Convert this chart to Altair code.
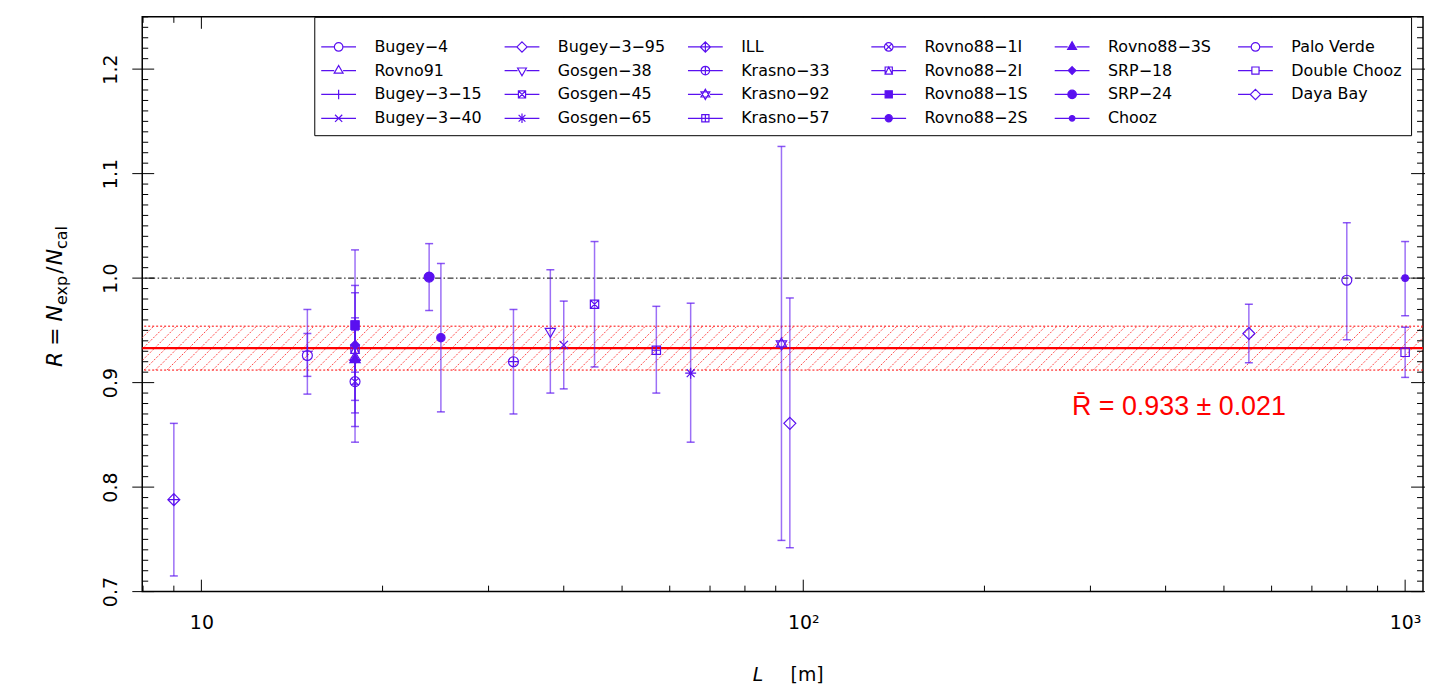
import math
import altair as alt
import pandas as pd

# ---------------- data ----------------
names = ["Bugey−4", "Rovno91", "Bugey−3−15", "Bugey−3−40",
         "Bugey−3−95", "Gosgen−38", "Gosgen−45", "Gosgen−65",
         "ILL", "Krasno−33", "Krasno−92", "Krasno−57",
         "Rovno88−1I", "Rovno88−2I", "Rovno88−1S", "Rovno88−2S",
         "Rovno88−3S", "SRP−18", "SRP−24", "Chooz",
         "Palo Verde", "Double Chooz", "Daya Bay"]
dist = [15, 18, 15, 40,
        95, 38, 45, 65,
        9, 33, 92, 57,
        18, 18, 18, 25,
        18, 18, 23.9, 1000,
        800, 1000, 550]
ratio = [0.926, 0.924, 0.930, 0.936,
         0.861, 0.949, 0.975, 0.909,
         0.788, 0.920, 0.937, 0.931,
         0.901, 0.932, 0.955, 0.943,
         0.922, 0.936, 1.001, 1.000,
         0.998, 0.929, 0.947]
err_lo = [0.906, 0.898, 0.889, 0.894,
          0.742, 0.890, 0.915, 0.843,
          0.715, 0.870, 0.749, 0.890,
          0.843, 0.871, 0.883, 0.872,
          0.858, 0.910, 0.969, 0.964,
          0.941, 0.905, 0.919]
err_hi = [0.947, 0.950, 0.970, 0.978,
          0.981, 1.008, 1.035, 0.976,
          0.861, 0.970, 1.126, 0.973,
          0.959, 0.993, 1.027, 1.014,
          0.986, 0.962, 1.033, 1.035,
          1.053, 0.953, 0.975]
pch = list(range(1, 24))

mean_R = 0.933
mean_err = 0.021
ref_R = 1.0

x_major = [10, 100, 1000]
x_minor = [8, 9, 20, 30, 40, 50, 60, 70, 80, 90, 200, 300, 400, 500, 600, 700, 800, 900]
y_major = [0.7, 0.8, 0.9, 1.0, 1.1, 1.2]
y_minor = [round(0.70 + 0.01 * i, 2) for i in range(56) if i % 10 != 0]

# ---------------- style ----------------
PURPLE = "#5A10F0"
W, H = 1288, 578
XDOM = [7.975, 1070.8]
YDOM = [0.7, 1.25]
FONT = "DejaVu Sans"


def f(v):
    return f"{v:.3f}"


def circ(r):
    return f"M{f(r)},0A{f(r)},{f(r)} 0 1,1 {f(-r)},0A{f(r)},{f(r)} 0 1,1 {f(r)},0Z"


def sq(h):
    return f"M{f(-h)},{f(-h)}H{f(h)}V{f(h)}H{f(-h)}Z"


def tri_up(r):
    return f"M0,{f(-r)}L{f(0.866*r)},{f(0.5*r)}L{f(-0.866*r)},{f(0.5*r)}Z"


def tri_dn(r):
    return f"M0,{f(r)}L{f(0.866*r)},{f(-0.5*r)}L{f(-0.866*r)},{f(-0.5*r)}Z"


def dia(r):
    return f"M0,{f(-r)}L{f(r)},0L0,{f(r)}L{f(-r)},0Z"


def plus(r):
    return f"M{f(-r)},0H{f(r)}M0,{f(-r)}V{f(r)}"


def xx(r):
    return f"M{f(-r)},{f(-r)}L{f(r)},{f(r)}M{f(-r)},{f(r)}L{f(r)},{f(-r)}"


def symbol(p, s):
    """path for R pch p, scaled by s; returns (path, half width)"""
    c, h, t, d, pl, x = 0.5 * s, 0.42 * s, 0.6 * s, 0.6 * s, 0.55 * s, 0.42 * s
    table = {
        1: (circ(c), c), 2: (tri_up(t), 0.866 * t), 3: (plus(pl), 0),
        4: (xx(x), 0), 5: (dia(d), d), 6: (tri_dn(t), 0.866 * t),
        7: (sq(h) + xx(h), h), 8: (plus(pl) + xx(0.72 * pl), 0),
        9: (dia(d) + plus(d), 0), 10: (circ(c) + plus(c), 0),
        11: (tri_up(t) + tri_dn(t), 0.866 * t), 12: (sq(h) + plus(h), 0),
        13: (circ(c) + xx(0.707 * c), c),
        14: (sq(h) + f"M0,{f(-h)}L{f(h)},{f(h)}L{f(-h)},{f(h)}Z", h),
        15: (sq(h), h), 16: (circ(0.42 * s), 0.42 * s), 17: (tri_up(t), 0.866 * t),
        18: (dia(0.45 * s), 0.45 * s), 19: (circ(c), c), 20: (circ(0.33 * s), 0.33 * s),
        21: (circ(c), c), 22: (sq(h), h), 23: (dia(d), d),
    }
    return table[p]


LEG_SIZE = 853          # legend symbol box ~29.2 px
LEG_UNIT = (LEG_SIZE ** 0.5) / 2
LINE_HALF = 17.5 / LEG_UNIT
plot_paths = [symbol(p, 1.0)[0] for p in pch]
legend_paths = []
for p in pch:
    path, g = symbol(p, 8.6 / LEG_UNIT)
    if g > 0:
        line = f"M{f(-LINE_HALF)},0H{f(-g)}M{f(g)},0H{f(LINE_HALF)}"
    else:
        line = f"M{f(-LINE_HALF)},0H{f(LINE_HALF)}"
    legend_paths.append(line + path)
fills = [PURPLE if 15 <= p <= 20 else "transparent" for p in pch]

df = pd.DataFrame({"exp": names, "L": dist, "R": ratio, "lo": err_lo, "hi": err_hi})

xs = alt.Scale(type="log", domain=XDOM, nice=False)
ys = alt.Scale(domain=YDOM, nice=False, zero=False)
xaxis = alt.Axis(values=x_major, title=None, grid=False, domain=False, ticks=False, tickSize=0,
                 labelExpr="datum.value == 10 ? '10' : (datum.value == 100 ? '10²' : '10³')",
                 labelPadding=22, labelBaseline="top", labelAlign="center", labelAngle=0,
                 labelFlush=False, labelFont=FONT, labelFontSize=19, labelColor="black")
yaxis = alt.Axis(values=y_major, format=".1f", title=None, grid=False, domain=False, ticks=False,
                 tickSize=0, labelAngle=270, labelAlign="center", labelBaseline="alphabetic",
                 labelPadding=26, labelFont=FONT, labelFontSize=19, labelColor="black",
                 labelFlush=False)


def X(field):
    return alt.X(field, type="quantitative", scale=xs, axis=xaxis)


def Y(field):
    return alt.Y(field, type="quantitative", scale=ys, axis=yaxis)


# ---------------- hatch pattern of the band (decoration: 45° lines every S px) ----------------
band_lo, band_hi = mean_R - mean_err, mean_R + mean_err
decade_px = W / (math.log10(XDOM[1]) - math.log10(XDOM[0]))
band_h = (band_hi - band_lo) / (YDOM[1] - YDOM[0]) * H
S = 11.5
lmin, lmax = math.log10(XDOM[0]), math.log10(XDOM[1])
n_hatch = int((lmax - lmin + band_h / decade_px) * decade_px / S) + 2
hatch_df = pd.DataFrame({
    "a": [10 ** (lmin - band_h / decade_px + i * S / decade_px) for i in range(n_hatch)],
})
hatch_df["b"] = hatch_df["a"] * 10 ** (band_h / decade_px)
hatch_df["y0"] = band_lo
hatch_df["y1"] = band_hi

hatch = alt.Chart(hatch_df).mark_rule(color="#ff3030", strokeWidth=0.9, strokeDash=[2, 1.5],
                                      clip=True).encode(
    x=X("a"), x2="b", y=Y("y0"), y2="y1")
band_edges = alt.Chart(pd.DataFrame({"v": [band_lo, band_hi]})).mark_rule(
    color="red", strokeWidth=1, strokeDash=[2, 2]).encode(y=Y("v"))
mean_line = alt.Chart(pd.DataFrame({"v": [mean_R]})).mark_rule(
    color="red", strokeWidth=2.4).encode(y=Y("v"))
one_line = alt.Chart(pd.DataFrame({"v": [ref_R]})).mark_rule(
    color="black", strokeWidth=1, strokeDash=[6, 2.5, 1.5, 2.5]).encode(y=Y("v"))

bars = alt.Chart(df).mark_rule(color=PURPLE, strokeWidth=1.5, opacity=0.6).encode(
    x=X("L"), y=Y("lo"), y2="hi")
cap_lo = alt.Chart(df).mark_tick(color=PURPLE, orient="horizontal", size=8, thickness=1.5,
                                 opacity=0.7).encode(x=X("L"), y=Y("lo"))
cap_hi = alt.Chart(df).mark_tick(color=PURPLE, orient="horizontal", size=8, thickness=1.5,
                                 opacity=0.7).encode(x=X("L"), y=Y("hi"))

points = alt.Chart(df).mark_point(color=PURPLE, filled=False, strokeWidth=1.2, size=400,
                                  opacity=1).encode(
    x=X("L"), y=Y("R"),
    shape=alt.Shape("exp:N", scale=alt.Scale(domain=names, range=plot_paths), legend=None),
    fill=alt.Fill("exp:N", scale=alt.Scale(domain=names, range=fills), legend=None))

leg_props = dict(orient="none", legendX=173, legendY=0, columns=6, title=" ",
                 titleFontSize=4, titlePadding=1.5, padding=9, rowPadding=0,
                 columnPadding=16.4, gridAlign="all", symbolSize=LEG_SIZE,
                 symbolStrokeWidth=1.2, symbolStrokeColor=PURPLE, labelOffset=20.5,
                 labelFont=FONT, labelFontSize=16, labelColor="black", labelLimit=300,
                 strokeColor="black", fillColor="white", cornerRadius=0, symbolOpacity=1)
legend_layer = alt.Chart(df).mark_point(color=PURPLE, filled=False, strokeWidth=1.2,
                                        size=LEG_SIZE, opacity=0).encode(
    x=X("L"), y=Y("R"),
    shape=alt.Shape("exp:N", scale=alt.Scale(domain=names, range=legend_paths),
                    legend=alt.Legend(**leg_props)),
    fill=alt.Fill("exp:N", scale=alt.Scale(domain=names, range=fills),
                  legend=alt.Legend(**leg_props)),
    stroke=alt.Stroke("exp:N", scale=alt.Scale(domain=names, range=[PURPLE] * len(names)),
                      legend=alt.Legend(**leg_props)))

# ---------------- frame ticks ----------------
xmin_df = pd.DataFrame({"v": x_minor})
xmaj_df = pd.DataFrame({"v": x_major})
ymin_df = pd.DataFrame({"v": y_minor})
ymaj_df = pd.DataFrame({"v": y_major})
tk = dict(color="black", strokeWidth=1)
ticks = [
    alt.Chart(xmin_df).mark_rule(**tk).encode(x=X("v"), y=alt.value(H), y2=alt.value(H - 6)),
    alt.Chart(xmaj_df).mark_rule(**tk).encode(x=X("v"), y=alt.value(H), y2=alt.value(H - 12)),
    alt.Chart(xmin_df).mark_rule(**tk).encode(x=X("v"), y=alt.value(0), y2=alt.value(6)),
    alt.Chart(xmaj_df).mark_rule(**tk).encode(x=X("v"), y=alt.value(0), y2=alt.value(12)),
    alt.Chart(ymin_df).mark_rule(**tk).encode(y=Y("v"), x=alt.value(0), x2=alt.value(6)),
    alt.Chart(ymaj_df).mark_rule(**tk).encode(y=Y("v"), x=alt.value(-10), x2=alt.value(12)),
    alt.Chart(ymin_df).mark_rule(**tk).encode(y=Y("v"), x=alt.value(W), x2=alt.value(W - 6)),
    alt.Chart(ymaj_df).mark_rule(**tk).encode(y=Y("v"), x=alt.value(W + 10), x2=alt.value(W - 12)),
]

# ---------------- texts ----------------
one = alt.Data(values=[{"a": 1}])


def txt(s, x, y, size=19, font=FONT, style="normal", color="black", angle=0):
    return alt.Chart(one).mark_text(text=s, font=font, fontSize=size, fontStyle=style,
                                    color=color, align="left", baseline="alphabetic",
                                    angle=angle).encode(x=alt.value(x), y=alt.value(y))


texts = [txt("R\u0304 = 0.933 \u00b1 0.021", 935, 400, size=27, font="Liberation Sans",
             color="red"),
         txt("L", 614, 668, style="italic"),
         txt("[m]", 652, 668)]

# y title: R = N_exp / N_cal, rotated, built from pieces (text, size, style, shift, advance)
ytx, yty = -81, 352
pieces = [("R", 22, "italic", 0, 15.3 + 6), ("=", 22, "normal", 0, 18.4 + 6),
          ("N", 22, "italic", 0, 16.5), ("exp", 16, "normal", 5, 29.5 + 2),
          ("/", 22, "normal", 0, 7.4 + 1), ("N", 22, "italic", 0, 16.5),
          ("cal", 16, "normal", 5, 23.1)]
off = 0
for s, size, style, sub, adv in pieces:
    texts.append(txt(s, ytx + sub, yty - off, size=size, style=style, angle=270))
    off += adv

chart = alt.layer(hatch, band_edges, one_line, mean_line, bars, cap_lo, cap_hi, points,
                  legend_layer, *ticks, *texts).resolve_scale(
    shape="independent", fill="independent", stroke="independent").properties(
    width=W, height=H, autosize=alt.AutoSizeParams(type="none"),
    padding={"left": 135, "top": 7, "right": 2, "bottom": 93},
    background="white").configure_view(stroke="black", strokeWidth=1.5)

chart.save("out.html", embed_options={"renderer": "svg", "actions": False})
